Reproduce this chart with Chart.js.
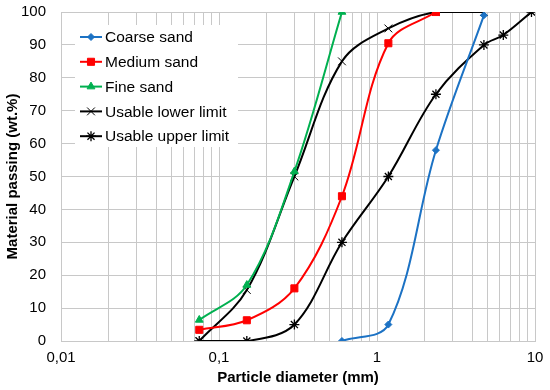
<!DOCTYPE html>
<html>
<head>
<meta charset="utf-8">
<script src="https://cdn.jsdelivr.net/npm/chart.js@4.4.1/dist/chart.umd.min.js"></script>
<style>
  body { margin: 0; background: #fff; }
  #wrap { width: 550px; height: 390px; }
</style>
</head>
<body>
<div id="wrap"><canvas id="myChart" width="550" height="390"></canvas></div>
<script>
// sieve sizes (mm) and % passing
const coarseX = [0.6, 1.18, 2.36, 4.75]
const coarseY = [0, 5, 58, 99]
const mediumX = [0.075, 0.15, 0.3, 0.6, 1.18, 2.36]
const mediumY = [3.4, 6.3, 16, 44, 90.5, 100]
const fineX = [0.075, 0.15, 0.3, 0.6]
const fineY = [6.4, 17, 51.5, 100]
const lowerX = [0.075, 0.15, 0.3, 0.6, 1.18, 2.36, 4.75]
const lowerY = [0, 15.5, 50, 85, 95, 100, 100]
const upperX = [0.075, 0.15, 0.3, 0.6, 1.18, 2.36, 4.75, 6.3, 9.5]
const upperY = [0, 0, 5, 30, 50, 75, 90, 93, 100]

const seriesNames = ["Coarse sand", "Medium sand", "Fine sand", "Usable lower limit", "Usable upper limit"]
const decades = [0.01, 0.1, 1, 10]
const decadeLabels = ["0,01", "0,1", "1", "10"]

const fontFamily = "'Liberation Sans', Arial, sans-serif"
const gridColor = "#c8c8c8"

function toPoints(xs, ys) {
    return xs.map((x, i) => ({ x: x, y: ys[i] }))
}

function makeSet(label, xs, ys, color, style, radius, width) {
    return {
        label: label,
        data: toPoints(xs, ys),
        borderColor: color,
        backgroundColor: color,
        borderWidth: 2,
        pointStyle: style,
        pointRadius: radius,
        pointBorderWidth: width,
        pointBorderColor: color,
        pointBackgroundColor: color,
        tension: 0.35
    }
}

const datasets = [
    makeSet(seriesNames[0], coarseX, coarseY, "#1c72c4", "rectRot", 3.5, 1),
    makeSet(seriesNames[1], mediumX, mediumY, "#ff0000", "rect", 5, 1),
    makeSet(seriesNames[2], fineX, fineY, "#00b050", "triangle", 4.5, 1),
    makeSet(seriesNames[3], lowerX, lowerY, "#000000", "crossRot", 5.5, 1),
    makeSet(seriesNames[4], upperX, upperY, "#000000", "star", 5, 1.3)
]

// 1..9 x each decade, so the grid matches a log paper
function logTicks(scale) {
    const ticks = []
    for (let d = 0; d < decades.length - 1; d++) {
        for (let m = 1; m < 10; m++) {
            ticks.push({ value: decades[d] * m, major: m == 1 })
        }
    }
    ticks.push({ value: decades[decades.length - 1], major: true })
    scale.ticks = ticks
}

function xLabel(value) {
    const i = decades.findIndex((d) => Math.abs(d - value) / d < 1e-6)
    return i >= 0 ? decadeLabels[i] : ""
}

// legend drawn inside the plot, like the original
const insideLegend = {
    id: "insideLegend",
    afterDatasetsDraw(chart) {
        const ctx = chart.ctx
        ctx.save()
        ctx.fillStyle = "#fff"
        ctx.fillRect(75, 25, 163, 122)
        ctx.font = "15.5px " + fontFamily
        ctx.textBaseline = "middle"
        chart.data.datasets.forEach((ds, i) => {
            const y = 37 + i * 24.8
            ctx.strokeStyle = ds.borderColor
            ctx.lineWidth = 2
            ctx.beginPath()
            ctx.moveTo(80, y)
            ctx.lineTo(102, y)
            ctx.stroke()
            ctx.fillStyle = ds.borderColor
            ctx.lineWidth = ds.pointBorderWidth
            if (Chart.helpers && Chart.helpers.drawPoint) {
                Chart.helpers.drawPoint(ctx, {
                    pointStyle: ds.pointStyle,
                    radius: ds.pointRadius,
                    rotation: 0,
                    borderWidth: ds.pointBorderWidth
                }, 91, y)
            }
            ctx.fillStyle = "#000"
            ctx.fillText(ds.label, 105, y + 1)
        })
        ctx.restore()
    }
}

const config = {
    type: "line",
    data: { datasets: datasets },
    options: {
        responsive: false,
        animation: false,
        layout: { padding: { top: 12, right: 15, left: 0, bottom: 0 } },
        plugins: { legend: { display: false }, tooltip: { enabled: false } },
        scales: {
            x: {
                type: "logarithmic",
                min: 0.01,
                max: 10,
                afterBuildTicks: logTicks,
                afterFit: (s) => { s.height = 49 },
                border: { color: gridColor },
                grid: { color: gridColor, tickLength: 5, tickColor: "rgba(0,0,0,0)" },
                ticks: {
                    autoSkip: false,
                    maxRotation: 0,
                    padding: 3,
                    color: "#000",
                    font: { family: fontFamily, size: 15 },
                    callback: (v) => xLabel(v)
                },
                title: {
                    display: true,
                    text: "Particle diameter (mm)",
                    color: "#000",
                    padding: { top: 0, bottom: 3 },
                    font: { family: fontFamily, size: 15, weight: "bold" }
                }
            },
            y: {
                min: 0,
                max: 100,
                afterFit: (s) => { s.width = 61 },
                border: { color: gridColor },
                grid: { color: gridColor, tickLength: 12, tickColor: "rgba(0,0,0,0)" },
                ticks: {
                    stepSize: 10,
                    padding: 3,
                    color: "#000",
                    font: { family: fontFamily, size: 15 }
                },
                title: {
                    display: true,
                    text: "Material passing (wt.%)",
                    color: "#000",
                    padding: { top: 4, bottom: 0 },
                    font: { family: fontFamily, size: 15, weight: "bold" }
                }
            }
        }
    },
    plugins: [insideLegend]
}

const chartDOM = document.getElementById("myChart")
const myChart = new Chart(chartDOM, config)
</script>
</body>
</html>
